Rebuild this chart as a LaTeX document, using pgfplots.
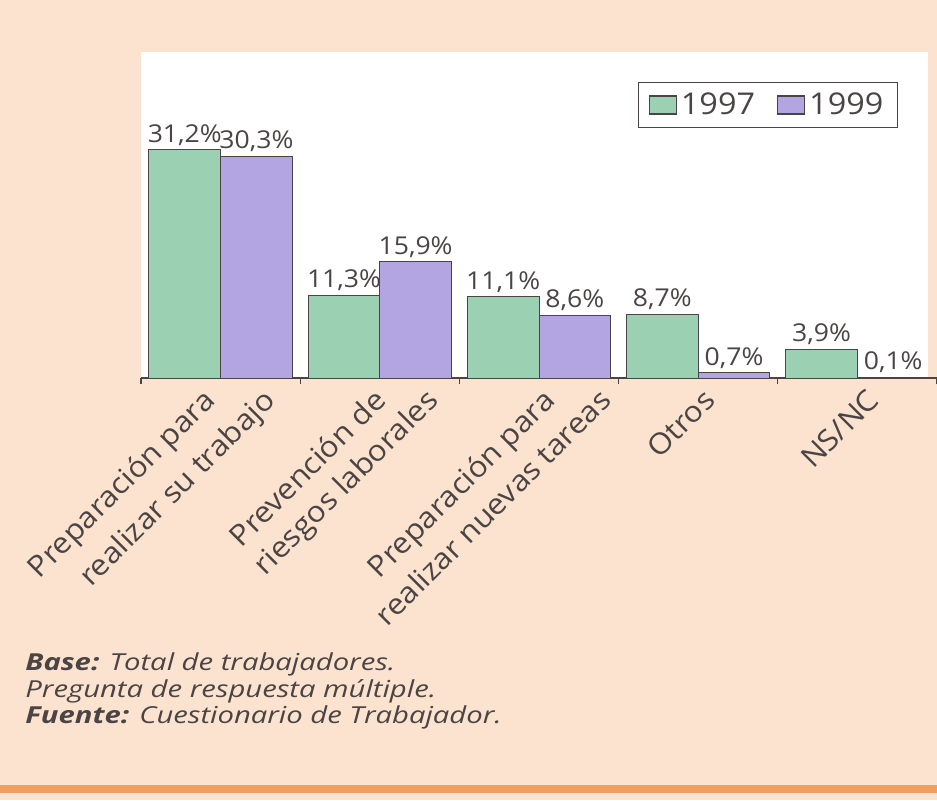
\documentclass[border=0pt]{standalone}
\usepackage{pgfplots}
\pgfplotsset{compat=1.18}
\usepackage{fontspec}
\setmainfont{Open Sans}[FakeStretch=1.08]
\newfontfamily\footfont{Open Sans}[FakeStretch=1.25]
\definecolor{peach}{HTML}{FBE3CF}
\definecolor{bargreen}{HTML}{9CD0B2}
\definecolor{barpurple}{HTML}{B3A5E2}
\definecolor{txt}{HTML}{4A4444}
\definecolor{orangeline}{HTML}{EFA060}
\begin{document}
\begin{tikzpicture}[x=1pt,y=1pt]
\fill[peach] (0,0) rectangle (468.5,400);
\fill[orangeline] (0,3.5) rectangle (468.5,7.5);
\begin{axis}[
  at={(70.5pt,211pt)}, anchor=south west,
  scale only axis, width=398pt, height=163pt,
  xmin=0, xmax=5, ymin=0, ymax=44.6,
  axis background/.style={fill=white},
  axis y line=none, axis x line*=bottom,
  x axis line style={txt, line width=0.7pt},
  ybar=0pt, bar width=0.45,
  % each line of a category name is its own tick label, ending on the line below the axis
  xtick={0.477,0.854,1.551,1.878,2.613,2.965,3.618,4.648},
  xticklabels={Preparación para,realizar su trabajo,Prevención de,riesgos laborales,Preparación para,realizar nuevas tareas,Otros,NS/NC},
  xticklabel style={rotate=45, anchor=base east, inner sep=0pt, font=\fontsize{14.5}{16}\selectfont, text=txt},
  xticklabel shift=12pt,
  major tick length=0pt,
  extra x ticks={0,1,2,3,4,5}, extra x tick labels={},
  extra x tick style={major tick length=3pt, tick align=outside, tick style={txt, line width=0.6pt}},
  ytick=\empty,
  /pgf/number format/assume math mode=true,
  nodes near coords={\pgfmathprintnumber[fixed,fixed zerofill,precision=1,use comma]{\pgfplotspointmeta}\%},
  every node near coord/.append style={font=\fontsize{12.3}{14}\selectfont, text=txt, inner sep=2pt},
  legend style={at={(0.951,0.908)}, anchor=north east, legend columns=2, draw=txt, line width=0.65pt,
    font=\fontsize{15}{16}\selectfont, text=txt, inner xsep=5pt, inner ysep=3pt,
    /tikz/every odd column/.append style={column sep=0pt},
    /tikz/every even column/.append style={column sep=9pt}},
  legend image code/.code={\draw[#1, draw=txt, line width=0.6pt] (0pt,-4.5pt) rectangle (13.5pt,4.5pt);},
]
\addplot[fill=bargreen, draw=txt, line width=0.5pt] coordinates {(0.5,31.2) (1.5,11.3) (2.5,11.1) (3.5,8.7) (4.5,3.9)};
\addplot[fill=barpurple, draw=txt, line width=0.5pt] coordinates {(0.5,30.3) (1.5,15.9) (2.5,8.6) (3.5,0.7) (4.5,0.1)};
\legend{1997,1999\hspace{4pt}}
\end{axis}
\fill[peach] (464,211.6) rectangle (468.5,374);
\node[anchor=base west, inner sep=0pt, font=\footfont\fontsize{11.7}{13}\selectfont\itshape, text=txt] at (12.5,65) {\textbf{Base:} Total de trabajadores.};
\node[anchor=base west, inner sep=0pt, font=\footfont\fontsize{11.7}{13}\selectfont\itshape, text=txt] at (12.5,51.5) {Pregunta de respuesta múltiple.};
\node[anchor=base west, inner sep=0pt, font=\footfont\fontsize{11.7}{13}\selectfont\itshape, text=txt] at (12.5,38.5) {\textbf{Fuente:} Cuestionario de Trabajador.};
\pgfresetboundingbox
\useasboundingbox (0,0) rectangle (468.5,400);
\end{tikzpicture}
\end{document}
